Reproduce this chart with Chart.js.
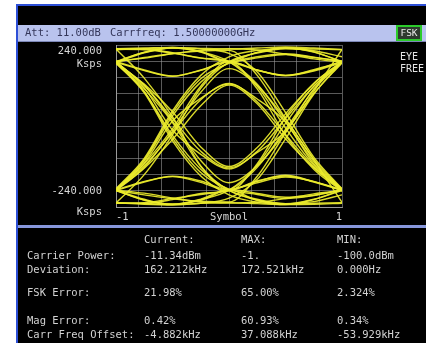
<!DOCTYPE html>
<html>
<head>
<meta charset="utf-8">
<script src="https://cdn.jsdelivr.net/npm/chart.js@4"></script>
<style>
    body { margin: 0; background: #fff; width: 426px; height: 343px; overflow: hidden; position: relative; font-family: 'DejaVu Sans Mono', monospace; }
    .abs { position: absolute; white-space: pre; }
    .txt { font-size: 10.5px; line-height: 11px; color: #d2d2d2; }
</style>
</head>
<body>
<div class="abs" style="left:16px;top:4px;width:410px;height:339px;background:#2d4fd6;"></div>
<div class="abs" style="left:18px;top:6px;width:408px;height:337px;background:#000;"></div>
<div class="abs" style="left:18px;top:25px;width:408px;height:17px;background:#b9c3ee;border-bottom:1px solid #7d88b8;box-sizing:border-box;"></div>
<div class="abs" style="left:18px;top:225px;width:408px;height:3px;background:#8797dc;"></div>
<canvas id="eye" width="426" height="343" style="position:absolute;left:0;top:0;"></canvas>
<div id="texts"></div>

<script>
// eye trace sample positions (symbol units)
var symbolX = [-1, -0.75, -0.5, -0.25, 0, 0.25, 0.5, 0.75, 1];

// traces whose centre symbol is high (Ksps)
var eyeUpperTraces = [
    [229, 231, 233, 230, 228, 231, 234, 231, 227],
    [191, 219, 233, 221, 192, 218, 231, 220, 189],
    [189, 164, 147, 166, 191, 166, 149, 163, 188],
    [227, 226, 216, 201, 190, 166, 150, 165, 192],
    [192, 201, 214, 224, 229, 225, 213, 199, 189],
    [188, 217, 231, 219, 190, 202, 212, 203, 193],
    [-190, -118, -20, 78, 126, 72, -25, -121, -192],
    [-187, -110, 15, 82, 124, 80, 12, -112, -186],
    [-192, -125, -40, 60, 121, 66, -38, -124, -189],
    [-189, -104, 30, 130, 188, 218, 232, 219, 191],
    [-191, -112, -8, 118, 191, 165, 150, 167, 190],
    [-186, -96, 45, 150, 205, 224, 230, 228, 226],
    [-228, -144, -26, 112, 190, 216, 229, 223, 205],
    [229, 228, 217, 202, 190, 124, 12, -105, -188],
    [190, 218, 232, 220, 191, 118, -6, -116, -190],
    [191, 166, 148, 165, 190, 110, -28, -128, -193],
    [226, 229, 231, 228, 215, 160, 40, -92, -186],
    [190, 203, 215, 222, 224, 150, 22, -100, -226],
    [-190, -122, -15, 100, 170, 120, 20, -98, -189],
    [-188, -100, 38, 140, 186, 205, 214, 204, 190]
];

// traces whose centre symbol is low
var eyeLowerTraces = [
    [-228, -232, -234, -229, -227, -230, -233, -232, -229],
    [-189, -217, -232, -220, -190, -220, -233, -218, -191],
    [-191, -166, -149, -163, -189, -164, -146, -165, -190],
    [-229, -227, -215, -203, -191, -168, -151, -164, -190],
    [-190, -199, -213, -225, -228, -226, -215, -201, -191],
    [-191, -219, -232, -217, -188, -200, -211, -205, -190],
    [189, 121, 22, -75, -124, -75, 22, 118, 190],
    [192, 113, -12, -84, -127, -78, -15, 110, 188],
    [186, 124, 42, -62, -120, -64, 36, 126, 191],
    [190, 102, -28, -128, -190, -220, -231, -217, -189],
    [188, 110, 10, -120, -189, -163, -148, -166, -191],
    [187, 98, -44, -148, -204, -226, -231, -229, -227],
    [228, 142, 28, -118, -191, -217, -230, -224, -204],
    [-228, -229, -218, -200, -189, -122, -10, 107, 190],
    [-191, -220, -233, -218, -190, -116, 8, 118, 189],
    [-189, -164, -150, -167, -192, -112, 26, 126, 191],
    [-227, -230, -232, -229, -214, -158, -38, 94, 187],
    [-191, -204, -216, -223, -225, -149, -20, 102, 227],
    [190, 120, 14, -102, -168, -118, -18, 96, 190],
    [187, 102, -36, -138, -187, -203, -215, -206, -189]
];

var yRange = [-240, 240];
var yTopLabel = ['240.000', 'Ksps'];
var yBottomLabel = ['-240.000', 'Ksps'];
var xTickText = ['-1', 'Symbol', '1'];

// measurement table
var colHeads = ['Current:', 'MAX:', 'MIN:'];
var rowLabels = ['Carrier Power:', 'Deviation:', 'FSK Error:', 'Mag Error:', 'Carr Freq Offset:'];
var currentValues = ['-11.34dBm', '162.212kHz', '21.98%', '0.42%', '-4.882kHz'];
var maxValues = ['-1.', '172.521kHz', '65.00%', '60.93%', '37.088kHz'];
var minValues = ['-100.0dBm', '0.000Hz', '2.324%', '0.34%', '-53.929kHz'];


// <----------------------------------------------- texts ----------------------------------------->
var texts = document.getElementById('texts');
function putText(str, left, centerY, color, size) {
    var d = document.createElement('div');
    d.className = 'abs txt';
    d.textContent = str;
    d.style.left = left + 'px';
    d.style.top = (centerY - 6) + 'px';
    if (color) d.style.color = color;
    if (size) d.style.fontSize = size + 'px';
    texts.appendChild(d);
}

putText('Att: 11.00dB', 25, 33, '#34365a');
putText('Carrfreq: 1.50000000GHz', 110, 33, '#34365a');
putText('EYE', 400, 57, '#e4e4e4', 10);
putText('FREE', 400, 69, '#e4e4e4', 10);

var fsk = document.createElement('div');
fsk.className = 'abs';
fsk.textContent = 'FSK';
fsk.style.cssText = 'position:absolute;left:396px;top:25px;width:26px;height:16px;box-sizing:border-box;border:2px solid #2ccc2c;background:#2e3a2e;color:#e8e8e8;font-size:9.5px;line-height:12px;text-align:center;';
texts.appendChild(fsk);

var colX = [144, 241, 337];
var rowY = [256, 270, 293, 321, 335];
for (let i = 0; i < colHeads.length; i++) {
    putText(colHeads[i], colX[i], 240);
}
for (let r = 0; r < rowLabels.length; r++) {
    putText(rowLabels[r], 27, rowY[r]);
    putText(currentValues[r], colX[0], rowY[r]);
    putText(maxValues[r], colX[1], rowY[r]);
    putText(minValues[r], colX[2], rowY[r]);
}

// <----------------------------------------------- eye diagram ----------------------------------------->
function toPoints(vals) {
    return vals.map(function (v, i) { return { x: symbolX[i], y: v }; });
}

var datasets = [];
eyeUpperTraces.concat(eyeLowerTraces).forEach(function (tr) {
    datasets.push({
        data: toPoints(tr),
        borderColor: 'rgba(236,236,44,0.92)',
        borderWidth: 1.4,
        pointRadius: 0,
        cubicInterpolationMode: 'monotone',
        fill: false
    });
});

var gridColor = 'rgba(150,150,150,0.6)';

new Chart(document.getElementById('eye').getContext('2d'), {
    type: 'line',
    data: { datasets: datasets },
    options: {
        responsive: false,
        animation: false,
        events: [],
        // y axis box is 76px wide so the chart area starts at x=116
        layout: { padding: { left: 40, top: 45, right: 84, bottom: 118 } },
        plugins: { legend: { display: false }, tooltip: { enabled: false } },
        scales: {
            x: {
                type: 'linear',
                min: -1, max: 1,
                grid: { color: gridColor, drawTicks: false },
                border: { color: 'rgba(170,170,170,0.8)' },
                afterFit: function (s) { s.height = 18; },
                ticks: {
                    stepSize: 0.2,
                    autoSkip: false,
                    maxRotation: 0,
                    align: 'inner',
                    padding: 4,
                    color: '#d6d6d6',
                    font: { family: 'DejaVu Sans Mono', size: 10.5 },
                    callback: function (v) {
                        if (Math.abs(v + 1) < 1e-6) return xTickText[0];
                        if (Math.abs(v) < 1e-6) return xTickText[1];
                        if (Math.abs(v - 1) < 1e-6) return xTickText[2];
                        return '';
                    }
                }
            },
            y: {
                min: yRange[0], max: yRange[1],
                grid: { color: gridColor, drawTicks: false },
                border: { color: 'rgba(170,170,170,0.8)' },
                afterFit: function (s) { s.width = 76; },
                ticks: {
                    stepSize: 48,
                    autoSkip: false,
                    padding: 14,
                    color: '#d6d6d6',
                    font: function (c) {
                        var low = c.tick && c.tick.value < 0;
                        return { family: 'DejaVu Sans Mono', size: 10.5, lineHeight: low ? 1.0 : 1.24 };
                    },
                    callback: function (v) {
                        if (v === yRange[1]) return ['', ''].concat(yTopLabel);
                        if (v === yRange[0]) return [yBottomLabel[0], '', yBottomLabel[1], ''];
                        return '';
                    }
                }
            }
        }
    }
});
</script>
</body>
</html>
